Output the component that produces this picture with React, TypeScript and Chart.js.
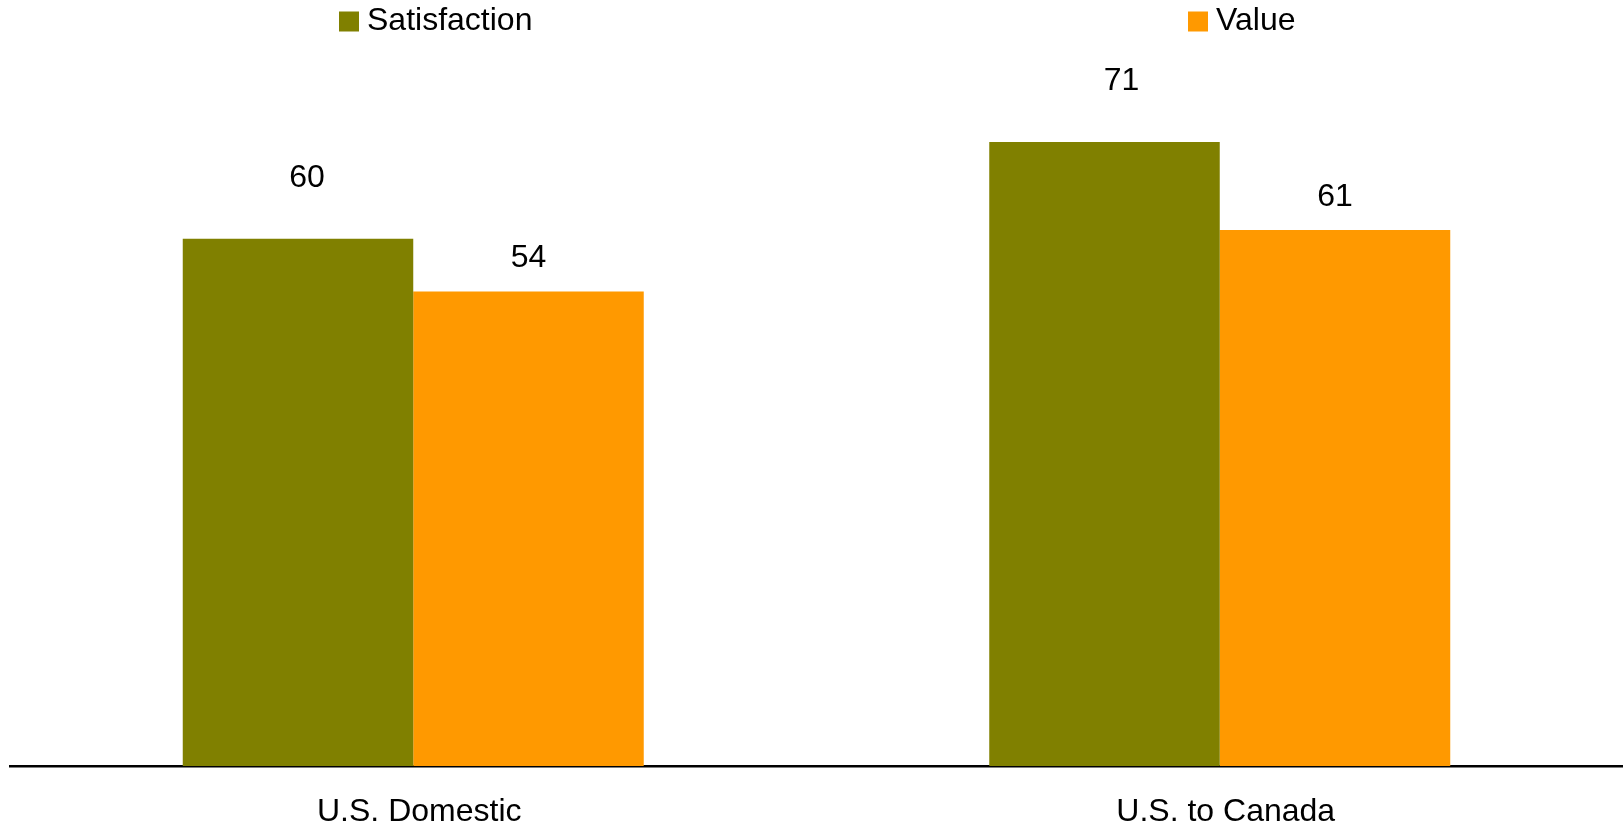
import React, { useEffect, useRef } from 'react';
import { Chart, registerables } from 'chart.js';

Chart.register(...registerables);

// ---- data ----
const categories: string[] = ['U.S. Domestic', 'U.S. to Canada'];
const seriesNames: string[] = ['Satisfaction', 'Value'];
const satisfaction: number[] = [60, 71];
const valueScores: number[] = [54, 61];

// ---- styles ----
const COLORS = ['#808000', '#FF9900'];
const FONT = '"Liberation Sans", Arial, sans-serif';
const LEGEND_X = [339, 1188]; // left edge of each legend swatch
const LEGEND_Y = 21.5; // vertical centre of legend row
const LABEL_RISE = [61, 33]; // value label centre distance above bar top, per series
const LABEL_DX = [[9, 17], [0, 0]]; // small horizontal nudges of value labels, per series/point

const legendPlugin = {
  id: 'customLegend',
  afterDraw(chart: any) {
    const ctx = chart.ctx;
    ctx.save();
    ctx.font = `32px ${FONT}`;
    ctx.textBaseline = 'middle';
    ctx.textAlign = 'left';
    chart.data.datasets.forEach((ds: any, i: number) => {
      const x = LEGEND_X[i];
      ctx.fillStyle = ds.backgroundColor;
      ctx.fillRect(x, LEGEND_Y - 10, 20, 20);
      ctx.fillStyle = '#000';
      ctx.fillText(ds.label, x + 28, LEGEND_Y);
    });
    ctx.restore();
  },
};

const valueLabelPlugin = {
  id: 'valueLabels',
  afterDatasetsDraw(chart: any) {
    const ctx = chart.ctx;
    ctx.save();
    ctx.font = `32px ${FONT}`;
    ctx.textBaseline = 'middle';
    ctx.textAlign = 'center';
    ctx.fillStyle = '#000';
    chart.data.datasets.forEach((ds: any, di: number) => {
      const meta = chart.getDatasetMeta(di);
      meta.data.forEach((el: any, i: number) => {
        const v = ds.data[i];
        ctx.fillText(String(v), el.x + (LABEL_DX[di]?.[i] ?? 0), el.y - LABEL_RISE[di]);
      });
    });
    ctx.restore();
  },
};

export default function App() {
  const ref = useRef<HTMLCanvasElement | null>(null);

  useEffect(() => {
    if (!ref.current) return;
    const chart = new Chart(ref.current, {
      type: 'bar',
      data: {
        labels: categories,
        datasets: [
          { label: seriesNames[0], data: satisfaction, backgroundColor: COLORS[0], borderWidth: 0 },
          { label: seriesNames[1], data: valueScores, backgroundColor: COLORS[1], borderWidth: 0 },
        ],
      },
      options: {
        animation: false,
        responsive: false,
        devicePixelRatio: 1,
        layout: { padding: { top: 63, left: 10, right: 0, bottom: 0 } },
        datasets: {
          bar: { categoryPercentage: 0.5716, barPercentage: 1 },
        },
        plugins: {
          legend: { display: false },
          tooltip: { enabled: false },
          title: { display: false },
        },
        scales: {
          x: {
            grid: { display: false, drawTicks: false },
            border: { display: true, color: '#000', width: 2.5 },
            ticks: {
              color: '#000',
              font: { family: FONT, size: 32, lineHeight: 0.95 },
              padding: 31,
              labelOffset: 6,
              maxRotation: 0,
              autoSkip: false,
            },
            afterFit(scale: any) {
              scale.height = 63;
            },
          },
          y: {
            display: false,
            min: 0,
            max: 80,
          },
        },
      },
      plugins: [legendPlugin, valueLabelPlugin],
    });
    return () => chart.destroy();
  }, []);

  return (
    <div style={{ position: 'fixed', left: 0, top: 0, width: 1623, height: 829, background: '#fff' }}>
      <canvas ref={ref} width={1623} height={829} style={{ display: 'block' }} />
    </div>
  );
}
